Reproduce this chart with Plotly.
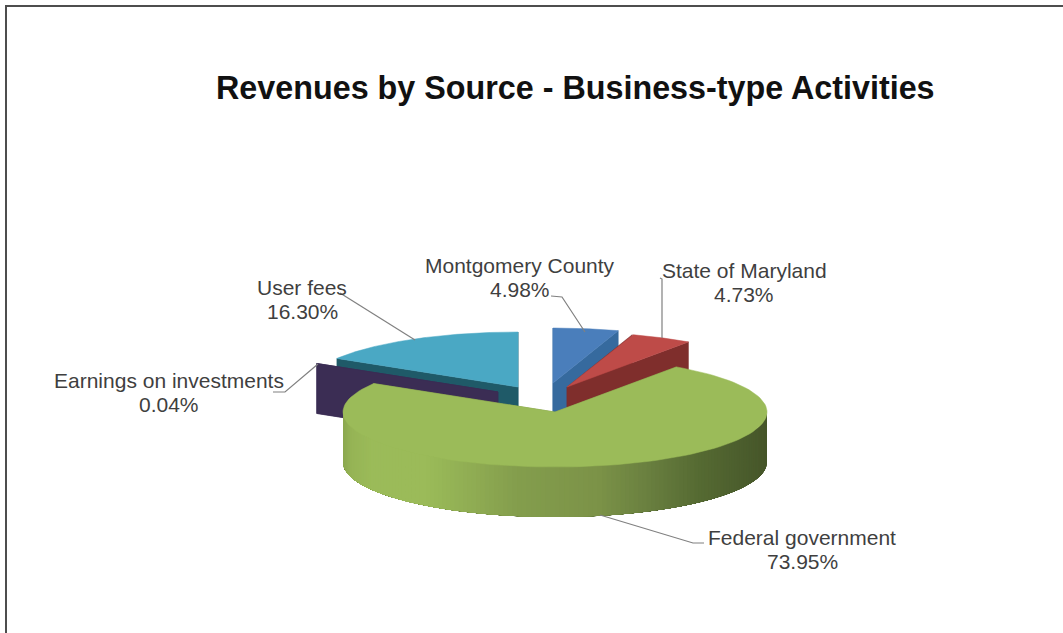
import numpy as np
import plotly.graph_objects as go

CATEGORIES = ["Montgomery County", "State of Maryland", "Federal government", "Earnings on investments", "User fees"]
VALUES = [4.98, 4.73, 73.95, 0.04, 16.30]
TITLE = "Revenues by Source - Business-type Activities"

# styling / layout (pixel frame of the picture)
W, H = 1063, 633
RX, RY, DEPTH = 212, 55, 50
CENTERS = {"Montgomery County": (553, 383), "State of Maryland": (567, 387),
           "Federal government": (555, 412), "Earnings on investments": (498, 392),
           "User fees": (518, 387)}
TOP = {"Montgomery County": "#4a7ebb", "State of Maryland": "#be4b48",
       "Federal government": "#9bbb59", "Earnings on investments": "#3b2d54",
       "User fees": "#4aa8c4"}
WALL = {"Montgomery County": "#366a9e", "State of Maryland": "#7f2e2c",
        "Federal government": "#7e9549", "Earnings on investments": "#3b2d54",
        "User fees": "#1f5a68"}
DRAW_ORDER = ["Montgomery County", "State of Maryland", "User fees", "Earnings on investments", "Federal government"]
LABEL_POS = {"Montgomery County": (520, 265), "State of Maryland": (744, 270),
             "Federal government": (802, 537), "Earnings on investments": (169, 380),
             "User fees": (302, 287)}
LINE_GAP = 24
LEADERS = [([551, 562, 585], [296, 297, 332]),
           ([660, 662, 662], [278, 279, 338]),
           ([704, 693, 600], [543, 543, 515]),
           ([273, 285, 318], [392, 392, 364]),
           ([340, 415], [293, 340])]
GRAD_X = [343, 352, 372, 430, 470, 520, 600, 650, 700, 768]
GRAD_C = [(140, 168, 80), (150, 180, 86), (155, 187, 89), (155, 187, 89), (145, 174, 84), (132, 158, 77),
          (124, 147, 72), (106, 128, 64), (86, 107, 51), (70, 86, 42)]

fig = go.Figure()


def poly(xs, ys, color, width=0.5):
    fig.add_trace(go.Scatter(x=list(xs), y=list(ys), mode="lines", fill="toself", fillcolor=color,
                             line=dict(width=width, color=color), hoverinfo="skip", showlegend=False))


def px(cx, t):
    return cx + RX * np.sin(t)


def py(cy, t):
    return cy - RY * np.cos(t)


# slice angles come from the values, clockwise from 12 o'clock
total = sum(VALUES)
edges = np.concatenate([[0], np.cumsum(VALUES)]) / total * 2 * np.pi
ANGLES = {c: (edges[i], edges[i + 1]) for i, c in enumerate(CATEGORIES)}

for name in DRAW_ORDER:
    a0, a1 = ANGLES[name]
    cx, cy = CENTERS[name]
    # radial walls
    for a in (a0, a1):
        ex, ey = px(cx, a), py(cy, a)
        poly([cx, ex, ex, cx, cx], [cy, ey, ey + DEPTH, cy + DEPTH, cy], WALL[name])
    # outer rim facing the viewer; each band overpaints the next so no seams show
    lo, hi = max(a0, np.pi / 2), min(a1, 3 * np.pi / 2)
    if hi > lo:
        steps = np.linspace(lo, hi, 141)
        for s0 in steps[:-1]:
            rgb = [int(np.interp(px(cx, s0), GRAD_X, [c[k] for c in GRAD_C])) for k in range(3)]
            arc = np.linspace(s0, hi, 40)
            col = f"rgb({rgb[0]},{rgb[1]},{rgb[2]})"
            poly(np.r_[px(cx, arc), px(cx, arc[::-1])],
                 np.r_[py(cy, arc), py(cy, arc[::-1]) + DEPTH], col, 0)
    # top face
    t = np.linspace(a0, a1, 120)
    poly(np.r_[cx, px(cx, t), cx], np.r_[cy, py(cy, t), cy], TOP[name])

for xs, ys in LEADERS:
    fig.add_trace(go.Scatter(x=xs, y=ys, mode="lines", line=dict(color="#808080", width=1.2),
                             hoverinfo="skip", showlegend=False))

# frame of the picture
fig.add_trace(go.Scatter(x=[6, 6, 1063], y=[633, 6, 6], mode="lines",
                         line=dict(color="#4d4d4d", width=2), hoverinfo="skip", showlegend=False))

for cat, val in zip(CATEGORIES, VALUES):
    x, y = LABEL_POS[cat]
    for text, yy in ((cat, y), (f"{val:.2f}%", y + LINE_GAP)):
        fig.add_annotation(x=x, y=yy, text=text, showarrow=False, align="center",
                           font=dict(family="Liberation Sans", size=21, color="#3f3f3f"))

fig.add_annotation(x=575, y=88, text=f"<b>{TITLE}</b>", showarrow=False,
                   font=dict(family="Liberation Sans", size=32.3, color="#111111"))

fig.update_layout(width=W, height=H, margin=dict(l=0, r=0, t=0, b=0), paper_bgcolor="white",
                  plot_bgcolor="white", showlegend=False,
                  xaxis=dict(range=[0, W], visible=False, fixedrange=True),
                  yaxis=dict(range=[H, 0], visible=False, fixedrange=True))
fig.write_html("out.html", config={"displayModeBar": False},
               post_script="document.body.style.margin='0';document.body.style.overflow='hidden';")
